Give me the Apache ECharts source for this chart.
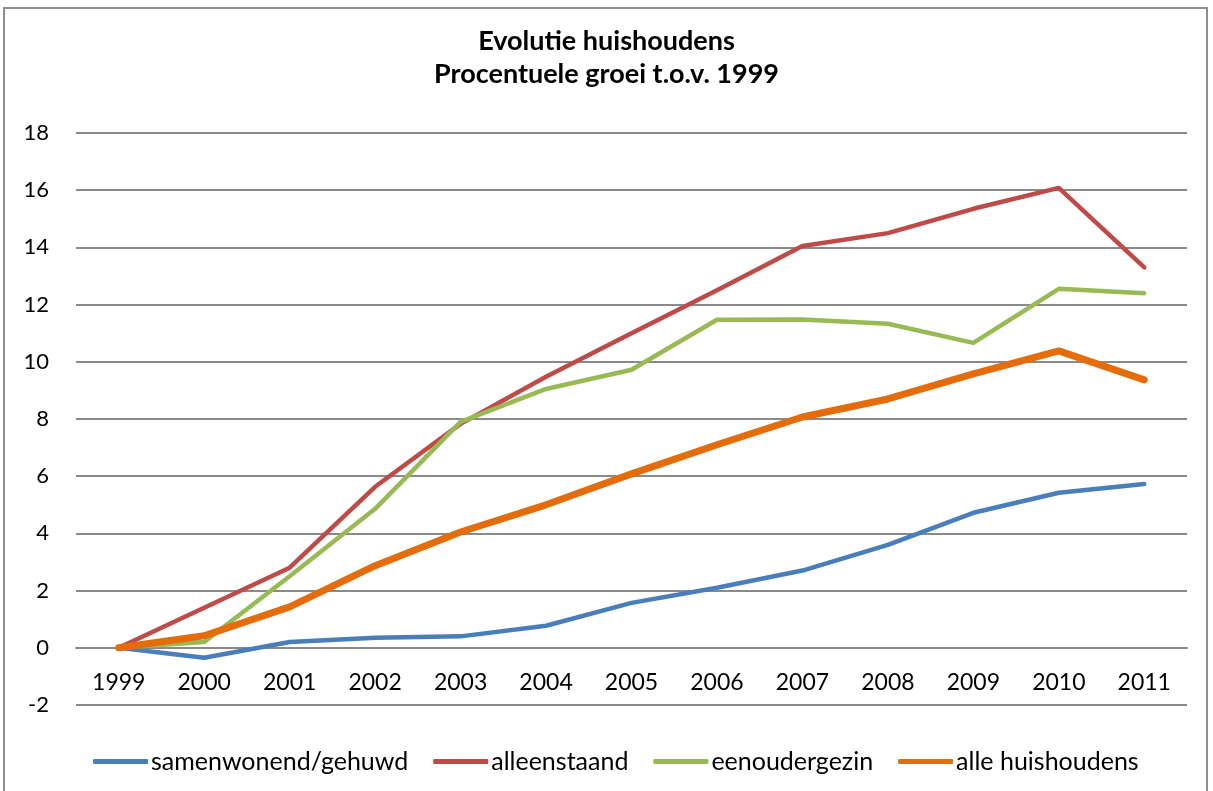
<!DOCTYPE html>
<html>
<head>
<meta charset="utf-8">
<script src="https://cdn.jsdelivr.net/npm/echarts@6/dist/echarts.min.js"></script>
<style>
  html, body { margin: 0; padding: 0; background: #fff; }
  #frame {
    position: absolute; left: 3px; top: 7px; width: 1205px; height: 790px;
    border: 2px solid #8e8e8e; box-sizing: border-box;
  }
  #main { position: absolute; left: 0; top: 0; width: 1213px; height: 791px; }
</style>
</head>
<body>
<div id="frame"></div>
<div id="main"></div>
<script>
// jaren (categorieën)
var years = ["1999", "2000", "2001", "2002", "2003", "2004", "2005",
             "2006", "2007", "2008", "2009", "2010", "2011"];

// procentuele groei t.o.v. 1999
var samenwonend = [0, -0.35, 0.2, 0.35, 0.4, 0.77, 1.57, 2.1, 2.7, 3.6, 4.72, 5.42, 5.73];
var alleenstaand = [0, 1.4, 2.8, 5.63, 7.83, 9.48, 11.0, 12.5, 14.05, 14.5, 15.35, 16.08, 13.3];
var eenouder = [0, 0.2, 2.5, 4.86, 7.9, 9.05, 9.72, 11.47, 11.48, 11.33, 10.66, 12.55, 12.4];
var alleHuish = [0, 0.42, 1.43, 2.87, 4.05, 5.0, 6.08, 7.1, 8.07, 8.7, 9.58, 10.38, 9.37];

var seriesNames = ["samenwonend/gehuwd", "alleenstaand", "eenoudergezin", "alle huishoudens"];

var font = "Lato, 'Open Sans', sans-serif";

var myChart = echarts.init(document.getElementById("main"));

function lineSeries(name, data, color, width) {
  return {
    name: name,
    type: "line",
    data: data,
    symbol: "none",
    lineStyle: { color: color, width: width, cap: "round", join: "round" },
    itemStyle: { color: color }
  };
}

myChart.setOption({
  animation: false,
  title: {
    text: "Evolutie huishoudens\nProcentuele groei t.o.v. 1999",
    left: "center",
    top: 20,
    textStyle: {
      fontFamily: font,
      fontSize: 27,
      fontWeight: "bold",
      color: "#000",
      lineHeight: 33
    }
  },
  legend: {
    data: seriesNames,
    top: 744,
    left: 88,
    icon: "roundRect",
    itemWidth: 55,
    itemHeight: 5,
    itemGap: 25,
    textStyle: { fontFamily: font, fontSize: 25, color: "#000", padding: [0, 0, 0, -2] }
  },
  grid: {
    left: 76,
    right: 26,
    top: 133,
    bottom: 86
  },
  xAxis: {
    type: "category",
    boundaryGap: true,
    data: years,
    offset: -57,
    axisLine: { onZero: false, lineStyle: { color: "#8a8a8a", width: 2 } },
    axisTick: { show: false },
    axisLabel: { fontFamily: font, fontSize: 23, color: "#000", margin: 23 }
  },
  yAxis: {
    type: "value",
    min: -2,
    max: 18,
    interval: 2,
    axisLine: { show: false },
    axisTick: { show: false },
    axisLabel: { fontFamily: font, fontSize: 22, color: "#000", margin: 27 },
    splitLine: { lineStyle: { color: "#8a8a8a", width: 2 } }
  },
  series: [
    lineSeries(seriesNames[0], samenwonend, "#4a7ebb", 4.5),
    lineSeries(seriesNames[1], alleenstaand, "#be4b48", 4.5),
    lineSeries(seriesNames[2], eenouder, "#98b954", 4.5),
    lineSeries(seriesNames[3], alleHuish, "#e46c0a", 7)
  ]
});
</script>
</body>
</html>
